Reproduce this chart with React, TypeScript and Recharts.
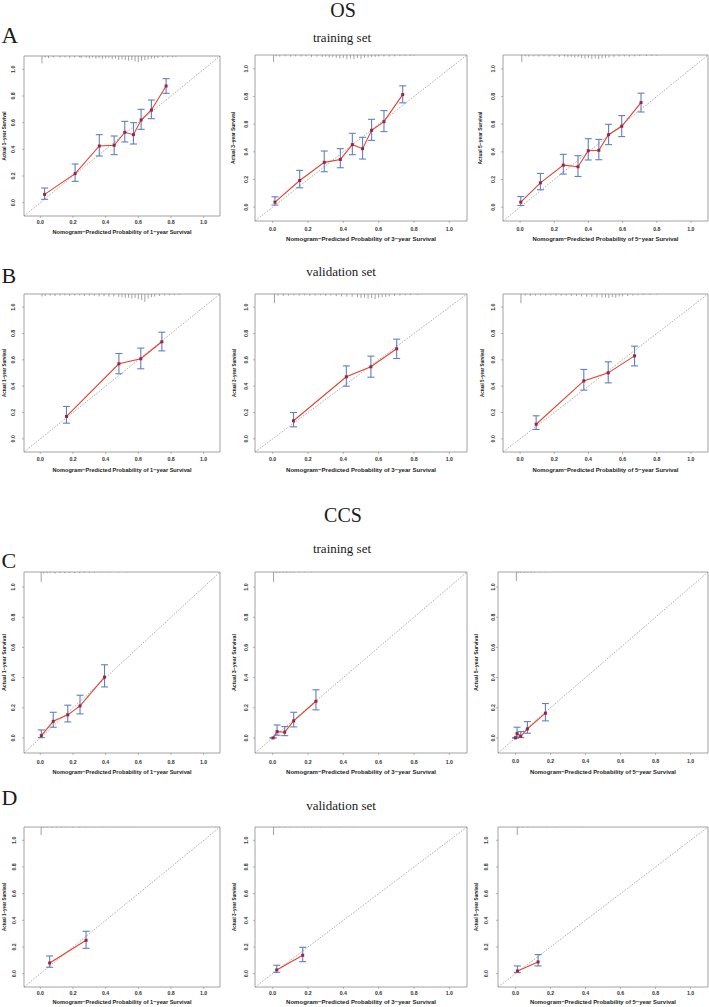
import React from "react";
import {
  ComposedChart,
  Line,
  Scatter,
  XAxis,
  YAxis,
  ErrorBar,
  ReferenceLine,
  ReferenceArea,
} from "recharts";

// ---------- OS, training set ----------
const osTrain1Pred = [0.026, 0.213, 0.361, 0.452, 0.517, 0.57, 0.617, 0.68, 0.77];
const osTrain1Obs = [0.062, 0.218, 0.425, 0.43, 0.528, 0.51, 0.62, 0.695, 0.875];
const osTrain1Lo = [0.025, 0.16, 0.35, 0.36, 0.455, 0.44, 0.55, 0.63, 0.82];
const osTrain1Hi = [0.11, 0.29, 0.51, 0.5, 0.61, 0.6, 0.7, 0.77, 0.93];

const osTrain3Pred = [0.013, 0.153, 0.292, 0.383, 0.451, 0.509, 0.56, 0.63, 0.736];
const osTrain3Obs = [0.036, 0.193, 0.324, 0.345, 0.452, 0.423, 0.556, 0.618, 0.814];
const osTrain3Lo = [0.015, 0.14, 0.256, 0.285, 0.379, 0.348, 0.483, 0.546, 0.754];
const osTrain3Hi = [0.075, 0.266, 0.406, 0.423, 0.534, 0.505, 0.635, 0.698, 0.877];

const osTrain5Pred = [0.004, 0.119, 0.253, 0.339, 0.399, 0.461, 0.518, 0.595, 0.708];
const osTrain5Obs = [0.036, 0.176, 0.304, 0.292, 0.408, 0.411, 0.524, 0.585, 0.756];
const osTrain5Lo = [0.012, 0.126, 0.239, 0.222, 0.341, 0.343, 0.452, 0.51, 0.688];
const osTrain5Hi = [0.077, 0.244, 0.382, 0.372, 0.495, 0.49, 0.599, 0.662, 0.824];

// ---------- OS, validation set ----------
const osValid1Pred = [0.16, 0.481, 0.615, 0.744];
const osValid1Obs = [0.17, 0.57, 0.608, 0.737];
const osValid1Lo = [0.119, 0.494, 0.532, 0.668];
const osValid1Hi = [0.246, 0.648, 0.689, 0.81];

const osValid3Pred = [0.118, 0.417, 0.556, 0.702];
const osValid3Obs = [0.137, 0.471, 0.547, 0.684];
const osValid3Lo = [0.091, 0.4, 0.468, 0.61];
const osValid3Hi = [0.2, 0.554, 0.628, 0.757];

const osValid5Pred = [0.094, 0.373, 0.516, 0.67];
const osValid5Obs = [0.111, 0.44, 0.501, 0.63];
const osValid5Lo = [0.071, 0.37, 0.425, 0.554];
const osValid5Hi = [0.175, 0.527, 0.585, 0.704];

// ---------- CCS, training set ----------
const ccsTrain1Pred = [0.006, 0.079, 0.168, 0.243, 0.393];
const ccsTrain1Obs = [0.015, 0.11, 0.153, 0.212, 0.403];
const ccsTrain1Lo = [0.002, 0.071, 0.106, 0.159, 0.338];
const ccsTrain1Hi = [0.053, 0.17, 0.217, 0.283, 0.485];

const ccsTrain3Pred = [0.002, 0.025, 0.068, 0.119, 0.245];
const ccsTrain3Obs = [0.0, 0.042, 0.038, 0.113, 0.243];
const ccsTrain3Lo = [0.0, 0.018, 0.015, 0.073, 0.186];
const ccsTrain3Hi = [0.0, 0.086, 0.075, 0.17, 0.319];

const ccsTrain5Pred = [0.0, 0.009, 0.03, 0.068, 0.171];
const ccsTrain5Obs = [0.0, 0.029, 0.011, 0.06, 0.164];
const ccsTrain5Lo = [0.0, 0.007, 0.002, 0.031, 0.113];
const ccsTrain5Hi = [0.0, 0.071, 0.042, 0.108, 0.228];

// ---------- CCS, validation set ----------
const ccsValid1Pred = [0.057, 0.28];
const ccsValid1Obs = [0.08, 0.25];
const ccsValid1Lo = [0.048, 0.19];
const ccsValid1Hi = [0.133, 0.318];

const ccsValid3Pred = [0.023, 0.17];
const ccsValid3Obs = [0.028, 0.138];
const ccsValid3Lo = [0.01, 0.09];
const ccsValid3Hi = [0.063, 0.198];

const ccsValid5Pred = [0.011, 0.129];
const ccsValid5Obs = [0.02, 0.088];
const ccsValid5Lo = [0.008, 0.058];
const ccsValid5Hi = [0.058, 0.143];

// ---------- spike histograms of predicted probabilities: [x, spike length] ----------
const rugOsTrain1: [number, number][] = [
  [0.01, 0.055], [0.03, 0.012], [0.05, 0.015], [0.08, 0.01], [0.12, 0.012], [0.15, 0.01],
  [0.18, 0.014], [0.21, 0.012], [0.24, 0.01], [0.25, 0.015], [0.28, 0.012], [0.3, 0.018],
  [0.32, 0.012], [0.34, 0.02], [0.36, 0.015], [0.38, 0.022], [0.4, 0.018], [0.42, 0.015],
  [0.44, 0.025], [0.46, 0.02], [0.48, 0.03], [0.5, 0.025], [0.52, 0.03], [0.54, 0.035],
  [0.56, 0.03], [0.58, 0.04], [0.6, 0.045], [0.62, 0.035], [0.64, 0.03], [0.66, 0.025],
  [0.68, 0.02], [0.7, 0.018], [0.72, 0.015], [0.75, 0.012], [0.78, 0.01], [0.81, 0.008], [0.83, 0.006],
];
const rugOsTrain3: [number, number][] = [
  [0.005, 0.05], [0.02, 0.01], [0.04, 0.012], [0.07, 0.01], [0.1, 0.012], [0.13, 0.01],
  [0.16, 0.012], [0.19, 0.01], [0.22, 0.014], [0.25, 0.012], [0.28, 0.015], [0.3, 0.012],
  [0.32, 0.018], [0.34, 0.015], [0.36, 0.02], [0.38, 0.025], [0.4, 0.022], [0.42, 0.028],
  [0.44, 0.025], [0.46, 0.03], [0.48, 0.022], [0.5, 0.028], [0.52, 0.02], [0.54, 0.018],
  [0.56, 0.015], [0.58, 0.014], [0.6, 0.012], [0.63, 0.01], [0.66, 0.012], [0.69, 0.01],
  [0.72, 0.008], [0.75, 0.008], [0.78, 0.006], [0.8, 0.005],
];
const rugOsTrain5: [number, number][] = [
  [0.01, 0.05], [0.03, 0.01], [0.05, 0.012], [0.08, 0.01], [0.11, 0.012], [0.14, 0.01],
  [0.17, 0.012], [0.2, 0.01], [0.23, 0.014], [0.26, 0.012], [0.28, 0.015], [0.3, 0.013],
  [0.32, 0.018], [0.34, 0.016], [0.36, 0.022], [0.38, 0.025], [0.4, 0.022], [0.42, 0.028],
  [0.44, 0.025], [0.46, 0.03], [0.48, 0.024], [0.5, 0.02], [0.52, 0.018], [0.55, 0.015],
  [0.58, 0.012], [0.61, 0.01], [0.64, 0.012], [0.67, 0.01], [0.7, 0.008], [0.74, 0.007],
  [0.77, 0.006], [0.8, 0.005],
];
const rugOsValid1: [number, number][] = [
  [0.01, 0.02], [0.03, 0.015], [0.06, 0.012], [0.09, 0.015], [0.12, 0.012], [0.15, 0.01],
  [0.18, 0.014], [0.21, 0.012], [0.24, 0.01], [0.27, 0.015], [0.3, 0.012], [0.33, 0.014],
  [0.36, 0.018], [0.39, 0.016], [0.42, 0.02], [0.45, 0.018], [0.48, 0.022], [0.5, 0.025],
  [0.52, 0.03], [0.54, 0.028], [0.56, 0.035], [0.58, 0.03], [0.6, 0.04], [0.62, 0.045],
  [0.64, 0.06], [0.66, 0.035], [0.68, 0.025], [0.7, 0.02], [0.73, 0.015], [0.76, 0.012],
  [0.79, 0.01], [0.82, 0.008], [0.85, 0.006],
];
const rugOsValid3: [number, number][] = [
  [0.01, 0.07], [0.03, 0.012], [0.06, 0.015], [0.09, 0.012], [0.12, 0.01], [0.15, 0.012],
  [0.18, 0.01], [0.21, 0.014], [0.24, 0.012], [0.27, 0.01], [0.3, 0.014], [0.33, 0.012],
  [0.36, 0.016], [0.39, 0.018], [0.42, 0.02], [0.45, 0.022], [0.48, 0.025], [0.5, 0.03],
  [0.52, 0.028], [0.54, 0.035], [0.56, 0.03], [0.58, 0.038], [0.6, 0.03], [0.62, 0.025],
  [0.64, 0.022], [0.66, 0.018], [0.69, 0.015], [0.72, 0.012], [0.75, 0.01], [0.78, 0.008], [0.82, 0.006],
];
const rugOsValid5: [number, number][] = [
  [0.005, 0.07], [0.03, 0.012], [0.06, 0.014], [0.09, 0.012], [0.12, 0.01], [0.15, 0.012],
  [0.18, 0.01], [0.21, 0.014], [0.24, 0.012], [0.27, 0.012], [0.3, 0.015], [0.33, 0.014],
  [0.36, 0.018], [0.39, 0.02], [0.42, 0.022], [0.45, 0.025], [0.48, 0.028], [0.5, 0.025],
  [0.52, 0.03], [0.54, 0.025], [0.56, 0.028], [0.58, 0.02], [0.6, 0.018], [0.63, 0.015],
  [0.66, 0.012], [0.69, 0.01], [0.72, 0.008], [0.76, 0.007], [0.8, 0.005],
];
const rugCcsTrain1: [number, number][] = [
  [0.005, 0.066], [0.02, 0.01], [0.04, 0.008], [0.06, 0.006], [0.09, 0.01], [0.12, 0.006],
  [0.15, 0.008], [0.18, 0.006], [0.21, 0.008], [0.24, 0.006], [0.27, 0.005], [0.3, 0.006],
  [0.33, 0.005], [0.37, 0.004], [0.42, 0.004], [0.48, 0.003], [0.53, 0.003],
];
const rugCcsTrain3: [number, number][] = [
  [0.005, 0.066], [0.02, 0.008], [0.04, 0.006], [0.06, 0.005], [0.08, 0.005], [0.1, 0.004],
  [0.12, 0.004], [0.15, 0.003], [0.18, 0.003], [0.22, 0.002],
];
const rugCcsTrain5: [number, number][] = [
  [0.005, 0.06], [0.015, 0.008], [0.03, 0.006], [0.05, 0.005], [0.07, 0.004], [0.09, 0.004],
  [0.11, 0.003], [0.14, 0.003], [0.17, 0.002],
];
const rugCcsValid1: [number, number][] = [
  [0.005, 0.06], [0.02, 0.006], [0.04, 0.005], [0.07, 0.006], [0.1, 0.005], [0.13, 0.005],
  [0.16, 0.004], [0.2, 0.005], [0.24, 0.004], [0.28, 0.004], [0.33, 0.003], [0.38, 0.003],
  [0.44, 0.003], [0.5, 0.002], [0.55, 0.002],
];
const rugCcsValid3: [number, number][] = [
  [0.005, 0.06], [0.02, 0.005], [0.04, 0.004], [0.07, 0.005], [0.1, 0.004], [0.14, 0.004],
  [0.18, 0.003], [0.22, 0.003], [0.27, 0.003], [0.32, 0.002], [0.38, 0.002], [0.45, 0.002],
];
const rugCcsValid5: [number, number][] = [
  [0.01, 0.06], [0.02, 0.004], [0.04, 0.004], [0.07, 0.004], [0.1, 0.003], [0.14, 0.003],
  [0.18, 0.003], [0.23, 0.002], [0.3, 0.002], [0.38, 0.002],
];

const axisTicks = [0, 0.2, 0.4, 0.6, 0.8, 1.0];
const DOMAIN: [number, number] = [-0.1, 1.1];

const SANS = "'Liberation Sans', Arial, sans-serif";
const SERIF = "'Liberation Serif', 'DejaVu Serif', serif";

type Geo = {
  left: number; top: number; w: number; h: number;
  yTickX: number; yTitleX: number; xTickY: number; xTitleY: number;
  xLen: number; yLen: number;
};

type PanelProps = {
  geo: Geo; year: string;
  pred: number[]; obs: number[]; lo: number[]; hi: number[];
  rug: [number, number][];
};

const PAD_L = 30;
const PAD_T = 5;

function Square(props: any) {
  const { cx, cy } = props;
  if (cx == null || cy == null) return <g />;
  return <rect x={cx - 1.5} y={cy - 1.5} width={3} height={3} fill="#a3213f" />;
}

function Nothing() {
  return <g />;
}

function CalibrationPanel({ geo, year, pred, obs, lo, hi, rug }: PanelProps) {
  const pts = pred.map((x, i) => ({ x, y: obs[i], err: [obs[i] - lo[i], hi[i] - obs[i]] }));
  const spikes = rug.map(([x, len]) => ({ x, y: 1.1, err: [len, 0] }));
  const cw = geo.w + PAD_L + 5;
  const ch = geo.h + PAD_T + 25;
  const ox = geo.left - PAD_L;
  const oy = geo.top - PAD_T;

  const xTick = (p: any) => (
    <text
      x={p.x}
      y={geo.xTickY - oy}
      textAnchor="middle"
      dominantBaseline="central"
      fontSize={5.2}
      fontWeight="bold"
      fill="#333"
      fontFamily={SANS}
    >
      {Number(p.payload.value).toFixed(1)}
    </text>
  );
  const yTick = (p: any) => {
    const tx = geo.yTickX - ox;
    return (
      <text
        x={tx}
        y={p.y}
        transform={`rotate(-90, ${tx}, ${p.y})`}
        textAnchor="middle"
        dominantBaseline="central"
        fontSize={5.2}
        fontWeight="bold"
        fill="#333"
        fontFamily={SANS}
      >
        {Number(p.payload.value).toFixed(1)}
      </text>
    );
  };
  const xTitleX = geo.left + geo.w / 2 - ox;
  const xTitleY = geo.xTitleY - oy;
  const yTitleX = geo.yTitleX - ox;
  const yTitleY = geo.top + geo.h / 2 - oy;

  return (
    <div style={{ position: "absolute", left: ox, top: oy }}>
      <ComposedChart
        width={cw}
        height={ch}
        data={pts}
        margin={{ top: PAD_T, right: 5, bottom: 0, left: 0 }}
      >
        <XAxis
          type="number"
          dataKey="x"
          domain={DOMAIN}
          ticks={axisTicks}
          allowDataOverflow
          axisLine={false}
          tickLine={{ stroke: "#888", strokeWidth: 0.6 }}
          tickSize={2}
          tickMargin={0}
          height={25}
          tick={xTick}
        />
        <YAxis
          type="number"
          dataKey="y"
          domain={DOMAIN}
          ticks={axisTicks}
          allowDataOverflow
          axisLine={false}
          tickLine={{ stroke: "#888", strokeWidth: 0.6 }}
          tickSize={2}
          tickMargin={0}
          width={PAD_L}
          tick={yTick}
        />
        <ReferenceArea
          x1={-0.1}
          x2={1.1}
          y1={-0.1}
          y2={1.1}
          fill="none"
          fillOpacity={0}
          stroke="#8a8a8a"
          strokeWidth={0.8}
        />
        <ReferenceLine
          segment={[{ x: -0.1, y: -0.1 }, { x: 1.1, y: 1.1 }]}
          stroke="#8c8c8c"
          strokeWidth={0.7}
          strokeDasharray="1.6 1.4"
        />
        <Scatter data={spikes} dataKey="y" shape={Nothing} isAnimationActive={false}>
          <ErrorBar dataKey="err" direction="y" width={0} stroke="#8a8a8a" strokeWidth={0.8} />
        </Scatter>
        <Line
          type="linear"
          dataKey="y"
          stroke="#e0432f"
          strokeWidth={1.1}
          dot={false}
          activeDot={false}
          isAnimationActive={false}
        />
        <Scatter data={pts} dataKey="y" shape={Square} isAnimationActive={false}>
          <ErrorBar dataKey="err" direction="y" width={3.5} stroke="#5f80c2" strokeWidth={1.1} />
        </Scatter>
        <text
          x={xTitleX}
          y={xTitleY}
          textAnchor="middle"
          dominantBaseline="central"
          fontSize={6}
          fontWeight="bold"
          fill="#222"
          fontFamily={SANS}
          textLength={geo.xLen}
          lengthAdjust="spacingAndGlyphs"
        >
          {`Nomogram\u2212Predicted Probability of ${year}\u2212year Survival`}
        </text>
        <text
          x={yTitleX}
          y={yTitleY}
          transform={`rotate(-90, ${yTitleX}, ${yTitleY})`}
          textAnchor="middle"
          dominantBaseline="central"
          fontSize={5.4}
          fontWeight="bold"
          fill="#222"
          fontFamily={SANS}
          textLength={geo.yLen}
          lengthAdjust="spacingAndGlyphs"
        >
          {`Actual ${year}\u2212year Survival`}
        </text>
      </ComposedChart>
    </div>
  );
}

// panel placement on the page
const geoA1: Geo = { left: 24, top: 56, w: 196, h: 160, yTickX: 13, yTitleX: 4, xTickY: 222, xTitleY: 232, xLen: 139, yLen: 49 };
const geoA2: Geo = { left: 255, top: 55, w: 212, h: 166, yTickX: 246, yTitleX: 233, xTickY: 229, xTitleY: 239, xLen: 150, yLen: 52 };
const geoA3: Geo = { left: 503, top: 55, w: 205, h: 166, yTickX: 493, yTitleX: 480, xTickY: 229, xTitleY: 239, xLen: 146, yLen: 53 };
const geoB1: Geo = { left: 24, top: 294, w: 196, h: 158, yTickX: 13, yTitleX: 4, xTickY: 459, xTitleY: 470, xLen: 139, yLen: 48 };
const geoB2: Geo = { left: 255, top: 294, w: 212, h: 158, yTickX: 246, yTitleX: 234, xTickY: 459, xTitleY: 470, xLen: 150, yLen: 48 };
const geoB3: Geo = { left: 503, top: 294, w: 205, h: 158, yTickX: 493, yTitleX: 482, xTickY: 459, xTitleY: 470, xLen: 146, yLen: 48 };
const geoC1: Geo = { left: 24, top: 572, w: 196, h: 181, yTickX: 13, yTitleX: 4, xTickY: 762, xTitleY: 772, xLen: 139, yLen: 57 };
const geoC2: Geo = { left: 255, top: 572, w: 212, h: 181, yTickX: 246, yTitleX: 234, xTickY: 762, xTitleY: 772, xLen: 150, yLen: 57 };
const geoC3: Geo = { left: 498, top: 572, w: 210, h: 181, yTickX: 493, yTitleX: 476, xTickY: 761, xTitleY: 772, xLen: 146, yLen: 57 };
const geoD1: Geo = { left: 24, top: 827, w: 196, h: 160, yTickX: 14, yTitleX: 4, xTickY: 993, xTitleY: 1002, xLen: 139, yLen: 48 };
const geoD2: Geo = { left: 255, top: 827, w: 212, h: 160, yTickX: 246, yTitleX: 234, xTickY: 993, xTitleY: 1002, xLen: 150, yLen: 48 };
const geoD3: Geo = { left: 498, top: 827, w: 210, h: 160, yTickX: 486, yTitleX: 476, xTickY: 993, xTitleY: 1002, xLen: 146, yLen: 48 };

const panels: PanelProps[] = [
  { geo: geoA1, year: "1", pred: osTrain1Pred, obs: osTrain1Obs, lo: osTrain1Lo, hi: osTrain1Hi, rug: rugOsTrain1 },
  { geo: geoA2, year: "3", pred: osTrain3Pred, obs: osTrain3Obs, lo: osTrain3Lo, hi: osTrain3Hi, rug: rugOsTrain3 },
  { geo: geoA3, year: "5", pred: osTrain5Pred, obs: osTrain5Obs, lo: osTrain5Lo, hi: osTrain5Hi, rug: rugOsTrain5 },
  { geo: geoB1, year: "1", pred: osValid1Pred, obs: osValid1Obs, lo: osValid1Lo, hi: osValid1Hi, rug: rugOsValid1 },
  { geo: geoB2, year: "3", pred: osValid3Pred, obs: osValid3Obs, lo: osValid3Lo, hi: osValid3Hi, rug: rugOsValid3 },
  { geo: geoB3, year: "5", pred: osValid5Pred, obs: osValid5Obs, lo: osValid5Lo, hi: osValid5Hi, rug: rugOsValid5 },
  { geo: geoC1, year: "1", pred: ccsTrain1Pred, obs: ccsTrain1Obs, lo: ccsTrain1Lo, hi: ccsTrain1Hi, rug: rugCcsTrain1 },
  { geo: geoC2, year: "3", pred: ccsTrain3Pred, obs: ccsTrain3Obs, lo: ccsTrain3Lo, hi: ccsTrain3Hi, rug: rugCcsTrain3 },
  { geo: geoC3, year: "5", pred: ccsTrain5Pred, obs: ccsTrain5Obs, lo: ccsTrain5Lo, hi: ccsTrain5Hi, rug: rugCcsTrain5 },
  { geo: geoD1, year: "1", pred: ccsValid1Pred, obs: ccsValid1Obs, lo: ccsValid1Lo, hi: ccsValid1Hi, rug: rugCcsValid1 },
  { geo: geoD2, year: "3", pred: ccsValid3Pred, obs: ccsValid3Obs, lo: ccsValid3Lo, hi: ccsValid3Hi, rug: rugCcsValid3 },
  { geo: geoD3, year: "5", pred: ccsValid5Pred, obs: ccsValid5Obs, lo: ccsValid5Lo, hi: ccsValid5Hi, rug: rugCcsValid5 },
];

function Headings() {
  const t = { fontFamily: SERIF, fill: "#1a1a1a" } as const;
  return (
    <svg width={709} height={1007} style={{ position: "absolute", left: 0, top: 0 }}>
      <text x={343} y={17} textAnchor="middle" fontSize={20} {...t}>OS</text>
      <text x={342} y={42} textAnchor="middle" fontSize={13} {...t}>training set</text>
      <text x={1.5} y={43} fontSize={23} {...t}>A</text>
      <text x={1.5} y={283} fontSize={22} {...t}>B</text>
      <text x={341} y={276} textAnchor="middle" fontSize={13} {...t}>validation set</text>
      <text x={343} y={522} textAnchor="middle" fontSize={20} {...t}>CCS</text>
      <text x={342} y={553} textAnchor="middle" fontSize={13} {...t}>training set</text>
      <text x={1.5} y={568} fontSize={22} {...t}>C</text>
      <text x={1.5} y={805} fontSize={22} {...t}>D</text>
      <text x={341} y={810} textAnchor="middle" fontSize={13} {...t}>validation set</text>
    </svg>
  );
}

export default function App() {
  return (
    <div
      style={{
        position: "absolute",
        left: 0,
        top: 0,
        width: 709,
        height: 1007,
        overflow: "hidden",
        background: "#fff",
      }}
    >
      <Headings />
      {panels.map((p, i) => (
        <CalibrationPanel key={i} {...p} />
      ))}
    </div>
  );
}
